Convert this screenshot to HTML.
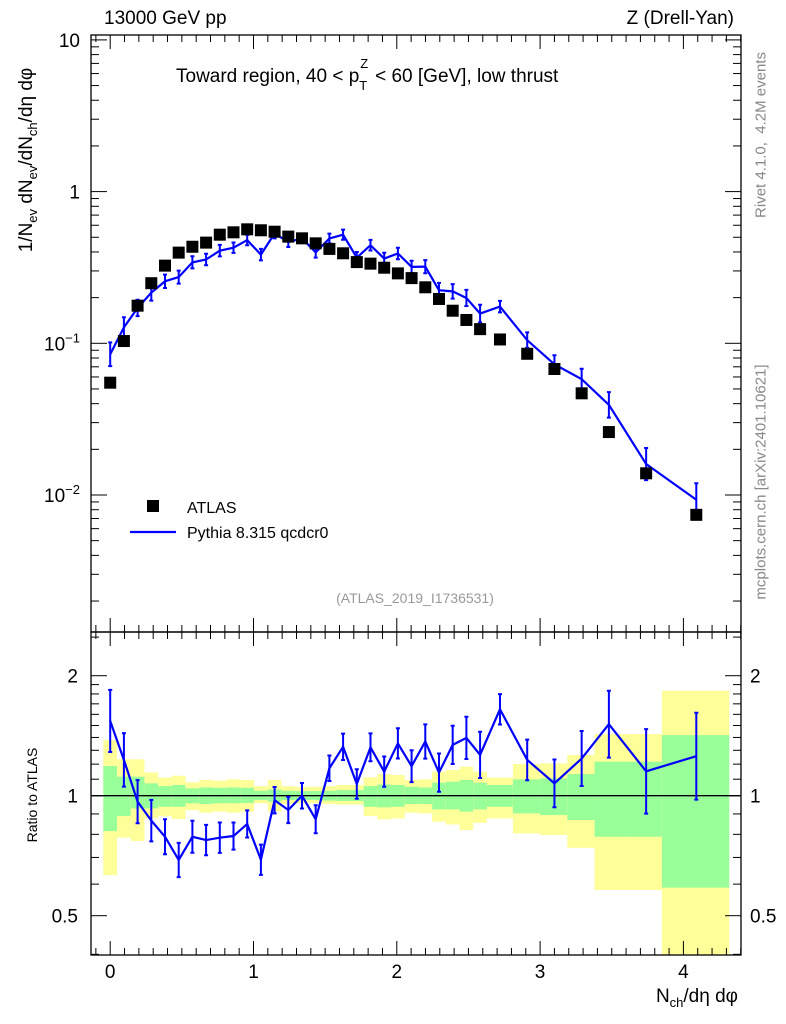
<!DOCTYPE html>
<html><head><meta charset="utf-8"><style>
body{margin:0;background:#fff}
svg{display:block;font-family:"Liberation Sans",sans-serif}
</style></head><body>
<svg id="c" width="786" height="1024"></svg>
<script>
const xs=[0,0.0956,0.1912,0.2868,0.3824,0.478,0.5736,0.6692,0.7648,0.8604,0.956,1.0516,1.1472,1.2428,1.3384,1.434,1.5296,1.6252,1.7208,1.8164,1.912,2.0076,2.1032,2.1988,2.2944,2.39,2.4856,2.5812,2.72,2.91,3.10,3.29,3.48,3.74,4.09];
const atlas=[0.055,0.1035,0.177,0.249,0.325,0.396,0.433,0.461,0.520,0.539,0.564,0.556,0.544,0.505,0.492,0.456,0.419,0.392,0.343,0.335,0.315,0.289,0.269,0.234,0.196,0.164,0.1425,0.124,0.106,0.0853,0.0677,0.0468,0.026,0.0139,0.0074];
const mc=[0.0847,0.1273,0.171,0.2156,0.2564,0.2732,0.3416,0.3568,0.408,0.427,0.479,0.384,0.530,0.465,0.492,0.398,0.491,0.520,0.367,0.443,0.362,0.391,0.319,0.320,0.224,0.220,0.199,0.157,0.1746,0.1049,0.0727,0.058,0.0393,0.0160,0.0093];
const mcLogErr=[0.078,0.067,0.054,0.052,0.044,0.043,0.040,0.038,0.038,0.034,0.034,0.038,0.033,0.033,0.032,0.035,0.032,0.033,0.037,0.035,0.038,0.038,0.040,0.043,0.048,0.048,0.053,0.058,0.038,0.051,0.060,0.069,0.084,0.106,0.109];
const bandEdges=[-0.0478,0.0478,0.1434,0.239,0.3346,0.4302,0.5258,0.6214,0.717,0.8126,0.9082,1.0038,1.0994,1.195,1.2906,1.3862,1.4818,1.5774,1.673,1.7686,1.8642,1.9598,2.0554,2.151,2.2466,2.3422,2.4378,2.5334,2.629,2.81,3.00,3.19,3.38,3.61,3.85,4.32];
const yelHi=[1.379,1.234,1.234,1.144,1.110,1.122,1.080,1.095,1.091,1.099,1.095,1.057,1.095,1.057,1.053,1.053,1.057,1.064,1.064,1.112,1.133,1.127,1.095,1.099,1.149,1.160,1.182,1.149,1.110,1.201,1.205,1.265,1.428,1.428,1.834];
const yelLo=[0.632,0.785,0.770,0.877,0.889,0.874,0.920,0.907,0.912,0.907,0.912,0.957,0.912,0.953,0.957,0.957,0.953,0.950,0.950,0.889,0.872,0.877,0.907,0.903,0.861,0.847,0.820,0.855,0.877,0.804,0.797,0.740,0.580,0.580,0.395];
const grnHi=[1.187,1.116,1.116,1.074,1.057,1.064,1.043,1.049,1.047,1.049,1.047,1.029,1.037,1.029,1.027,1.027,1.029,1.033,1.033,1.057,1.067,1.064,1.053,1.049,1.078,1.084,1.095,1.078,1.064,1.099,1.105,1.133,1.217,1.217,1.419];
const grnLo=[0.815,0.889,0.929,0.929,0.938,0.938,0.957,0.953,0.957,0.957,0.959,0.975,0.966,0.975,0.975,0.975,0.972,0.970,0.970,0.938,0.935,0.938,0.953,0.953,0.924,0.924,0.912,0.924,0.938,0.903,0.894,0.869,0.789,0.789,0.588];

const NS="http://www.w3.org/2000/svg";const svg=document.getElementById('c');
function el(t,a,p){const e=document.createElementNS(NS,t);for(const k in a)e.setAttribute(k,a[k]);(p||svg).appendChild(e);return e;}
const L=91,R=741,T1=35,B1=632,T2=632,B2=955;
const X=v=>110.2+v*143.3;
const Y1=v=>343.3-(Math.log10(v)+1)*151.7;
const Y2=v=>795.7-Math.log10(v)*398.6;
const clipY2=y=>Math.max(T2,Math.min(B2,y));

// bands
const gB=el('g',{});
for(let i=0;i<yelHi.length;i++){
 const x0=Math.max(L,X(bandEdges[i])),x1=Math.min(R,X(bandEdges[i+1]));
 const yr=el('rect',{x:x0,y:clipY2(Y2(yelHi[i])),width:x1-x0,height:clipY2(Y2(yelLo[i]))-clipY2(Y2(yelHi[i])),fill:'#ffff99'},gB);
 
 const gr=el('rect',{x:x0,y:Y2(grnHi[i]),width:x1-x0,height:Y2(grnLo[i])-Y2(grnHi[i]),fill:'#99ff99'},gB);
 
}
el('line',{x1:L,x2:R,y1:Y2(1),y2:Y2(1),stroke:'#000','stroke-width':1.3});

// frames
for(const [t,b,n] of [[T1,B1,'main-frame'],[T2,B2,'ratio-frame']]){const r=el('rect',{x:L,y:t,width:R-L,height:b-t,fill:'none',stroke:'#000','stroke-width':1.3});}

// x ticks
for(let k=-1;k<=44;k++){const v=k/10;const x=X(v);if(x<L||x>R)continue;const maj=k%10===0;const len=maj?14:7;
 for(const [t,b] of [[T1,B1],[T2,B2]]){el('line',{x1:x,x2:x,y1:b,y2:b-len,stroke:'#000'});el('line',{x1:x,x2:x,y1:t,y2:t+len,stroke:'#000'});}}
for(let k=0;k<=4;k++){const t=el('text',{x:X(k),y:978,'font-size':19,'text-anchor':'middle'});t.textContent=k;}

// main y ticks
for(let d=-3;d<=1;d++){for(let m=1;m<=9;m++){const v=m*Math.pow(10,d);const y=Y1(v);if(y<T1||y>B1)continue;const len=m===1?16:8;
 el('line',{x1:L,x2:L+len,y1:y,y2:y,stroke:'#000'});el('line',{x1:R,x2:R-len,y1:y,y2:y,stroke:'#000'});}}
function lbl(x,y,html,name,anchor){const t=el('text',{x:x,y:y,'font-size':19,'text-anchor':anchor||'end'});t.innerHTML=html;return t;}
lbl(80,Y1(10)+7,'10','y-tick-label');lbl(80,Y1(1)+7,'1','y-tick-label');
lbl(80,Y1(0.1)+7,'10<tspan dy="-8" font-size="13">−1</tspan>','y-tick-label');
lbl(80,Y1(0.01)+7,'10<tspan dy="-8" font-size="13">−2</tspan>','y-tick-label');

// ratio y ticks
for(const v of [0.4,0.5,0.6,0.7,0.8,0.9,1,1.1,1.2,1.3,1.4,1.5,1.6,1.7,1.8,1.9,2,2.5]){const y=Y2(v);if(y<T2||y>B2)continue;const len=(v===0.5||v===1||v===2)?16:8;
 el('line',{x1:L,x2:L+len,y1:y,y2:y,stroke:'#000'});el('line',{x1:R,x2:R-len,y1:y,y2:y,stroke:'#000'});}
for(const [v,s] of [[2,'2'],[1,'1'],[0.5,'0.5']]){lbl(78,Y2(v)+7,s,'ratio-tick-label');lbl(750,Y2(v)+7,s,'ratio-tick-label','start');}

// MC line main
const gM=el('g',{});
el('polyline',{points:xs.map((x,i)=>X(x)+','+Y1(mc[i])).join(' '),fill:'none',stroke:'#0000ff','stroke-width':2.2},gM);
xs.forEach((x,i)=>{const yt=Y1(mc[i]*Math.pow(10,mcLogErr[i])),yb=Y1(mc[i]/Math.pow(10,mcLogErr[i]));const px=X(x);
 const e=el('path',{d:`M${px},${yt}V${yb}M${px-2},${yt}H${px+2}M${px-2},${yb}H${px+2}`,stroke:'#0000ff','stroke-width':2,fill:'none'},gM);
 });
// ATLAS points
xs.forEach((x,i)=>{const r=el('rect',{x:X(x)-6,y:Y1(atlas[i])-6,width:12,height:12,fill:'#000'});
 });

// ratio MC
const gR=el('g',{});
el('polyline',{points:xs.map((x,i)=>X(x)+','+Y2(mc[i]/atlas[i])).join(' '),fill:'none',stroke:'#0000ff','stroke-width':2.2},gR);
xs.forEach((x,i)=>{const r=mc[i]/atlas[i];const yt=Y2(r*Math.pow(10,mcLogErr[i])),yb=Y2(r/Math.pow(10,mcLogErr[i]));const px=X(x);
 const e=el('path',{d:`M${px},${yt}V${yb}M${px-2},${yt}H${px+2}M${px-2},${yb}H${px+2}`,stroke:'#0000ff','stroke-width':2,fill:'none'},gR);
 });

// legend
const lg=el('g',{});
el('rect',{x:147,y:500,width:12,height:12,fill:'#000'},lg);
let t=el('text',{x:187,y:513,'font-size':16},lg);t.textContent='ATLAS';
el('line',{x1:130,x2:176,y1:532,y2:532,stroke:'#0000ff','stroke-width':2.2},lg);
t=el('text',{x:187,y:538,'font-size':16},lg);t.textContent='Pythia 8.315 qcdcr0';
</script>
<div style="position:absolute;left:0;top:0;width:786px;height:1024px;pointer-events:none;font-family:'Liberation Sans',sans-serif">
<div style="position:absolute;left:104px;top:8px;font-size:19px">13000 GeV pp</div>
<div style="position:absolute;right:52px;top:8px;font-size:19px">Z (Drell-Yan)</div>
<div style="position:absolute;left:176px;top:66px;font-size:19px;white-space:nowrap">Toward region, 40 &lt; p<span style="position:relative"><sub style="font-size:13px;position:absolute;left:0;top:12px">T</sub><sup style="font-size:13px;position:absolute;left:1px;top:-10px">Z</sup></span>&nbsp;&nbsp; &lt; 60 [GeV], low thrust</div>
<div style="position:absolute;left:0;width:830px;text-align:center;top:590px;font-size:14px;color:#999">(ATLAS_2019_I1736531)</div>
<div style="position:absolute;left:761px;top:135px;font-size:15px;color:#888;white-space:nowrap;transform:translate(-50%,-50%) rotate(-90deg)">Rivet 4.1.0,&nbsp; 4.2M events</div>
<div style="position:absolute;left:761px;top:482px;font-size:15px;color:#888;white-space:nowrap;transform:translate(-50%,-50%) rotate(-90deg)">mcplots.cern.ch [arXiv:2401.10621]</div>
<div style="position:absolute;left:28px;top:160px;font-size:19px;white-space:nowrap;transform:translate(-50%,-50%) rotate(-90deg)">1/N<sub style="font-size:13px">ev</sub> dN<sub style="font-size:13px">ev</sub>/dN<sub style="font-size:13px">ch</sub>/dη dφ</div>
<div style="position:absolute;left:32px;top:795px;font-size:14px;white-space:nowrap;transform:translate(-50%,-50%) rotate(-90deg)">Ratio to ATLAS</div>
<div style="position:absolute;right:48px;top:986px;font-size:19px;white-space:nowrap">N<sub style="font-size:13px">ch</sub>/dη dφ</div>
</div>
</body></html>
